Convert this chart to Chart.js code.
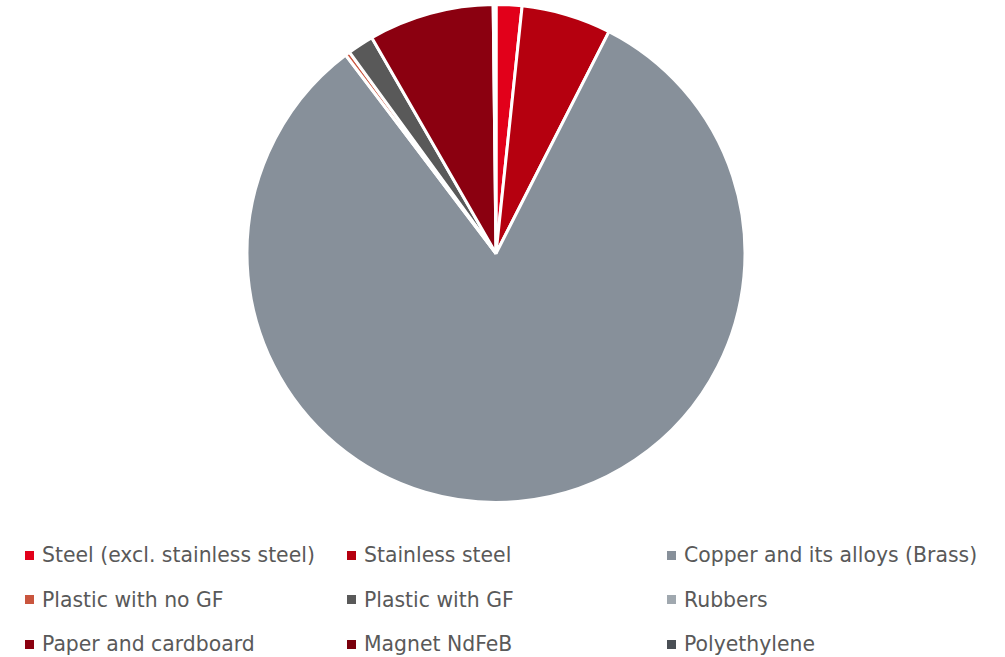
<!DOCTYPE html>
<html>
<head>
<meta charset="utf-8">
<script src="https://cdn.jsdelivr.net/npm/chart.js@4/dist/chart.umd.min.js"></script>
<style>
  html, body { margin: 0; padding: 0; background: #fff; }
  body { width: 1005px; height: 657px; position: relative; overflow: hidden; font-family: "DejaVu Sans", "Open Sans", sans-serif; }
  #wrap { position: absolute; left: -7px; top: 3px; width: 1006px; height: 501px; }
  #legend { position: absolute; left: 25px; top: 540px; display: grid; grid-template-columns: 322px 320px 320px; grid-auto-rows: 44.5px; }
  .item { display: flex; align-items: center; font-size: 20.4px; color: #595959; height: 30px; white-space: nowrap; }
  .box { width: 9px; height: 9px; margin-right: 8px; flex: none; }
</style>
</head>
<body>
<div id="wrap"><canvas id="c"></canvas></div>
<div id="legend"></div>
<script>
const categories = [
  "Steel (excl. stainless steel)",
  "Stainless steel",
  "Copper and its alloys (Brass)",
  "Plastic with no GF",
  "Plastic with GF",
  "Rubbers",
  "Paper and cardboard",
  "Magnet NdFeB",
  "Polyethylene"
];
const shares = [1.67, 5.8, 81.9, 0.3, 1.7, 0, 8.1, 0.18, 0];
const colors = ["#E2001A", "#B5000F", "#87909A", "#C9553E", "#595959", "#A0A8AF", "#8B0010", "#7A000C", "#4A4F55"];

const chart = new Chart(document.getElementById('c'), {
  type: 'pie',
  data: {
    labels: categories,
    datasets: [{
      data: shares,
      backgroundColor: colors,
      borderColor: '#ffffff',
      borderWidth: 3
    }]
  },
  options: {
    responsive: true,
    maintainAspectRatio: false,
    animation: false,
    layout: { padding: 0 },
    plugins: {
      legend: { display: false },
      tooltip: { enabled: false }
    }
  }
});

const legend = document.getElementById('legend');
categories.forEach((name, i) => {
  const d = document.createElement('div');
  d.className = 'item';
  const b = document.createElement('span');
  b.className = 'box';
  b.style.background = colors[i];
  const t = document.createElement('span');
  t.textContent = name;
  d.appendChild(b);
  d.appendChild(t);
  legend.appendChild(d);
});
</script>
</body>
</html>
